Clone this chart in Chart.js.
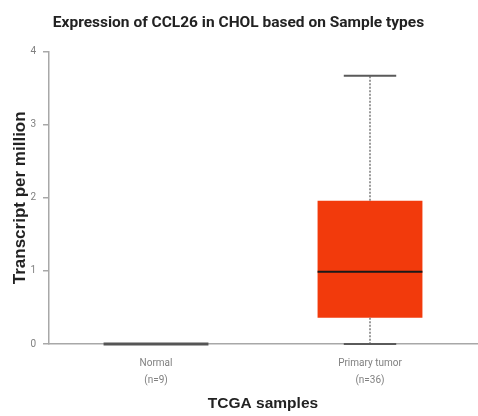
<!DOCTYPE html>
<html>
<head>
<meta charset="utf-8">
<script src="https://cdn.jsdelivr.net/npm/chart.js@4/dist/chart.umd.min.js"></script>
<style>
  html, body { margin: 0; padding: 0; background: #fff; }
  canvas { display: block; }
</style>
</head>
<body>
<canvas id="myChart" width="478" height="416"></canvas>
<script>
// sample groups and their box summary (TPM)
var groups = [["Normal", "(n=9)"], ["Primary tumor", "(n=36)"]];
var mins = [0, 0];
var q1s = [0, 0.36];
var medians = [0, 0.99];
var q3s = [0, 1.96];
var maxs = [0, 3.67];
var boxColors = ["#4d4d4d", "#f23a0c"];
var yTicks = [0, 1, 2, 3, 4];

var boxes = [];
for (var i = 0; i < groups.length; i++) {
    boxes.push([q1s[i], q3s[i]]);
}

// whiskers, caps and median lines on top of the floating bars
var boxPlotPlugin = {
    id: 'boxPlot',
    afterDatasetsDraw: function (chart) {
        var ctx = chart.ctx;
        var x = chart.scales.x;
        var y = chart.scales.y;
        var bars = chart.getDatasetMeta(0).data;
        ctx.save();
        for (var i = 0; i < groups.length; i++) {
            var cx = x.getPixelForValue(i);
            var half = bars[i].width / 2;
            var cap = half / 2;
            // dashed whiskers
            ctx.strokeStyle = "#7a7a7a";
            ctx.lineWidth = 1.5;
            ctx.setLineDash([2, 1.5]);
            ctx.beginPath();
            ctx.moveTo(cx, y.getPixelForValue(q3s[i]));
            ctx.lineTo(cx, y.getPixelForValue(maxs[i]));
            ctx.moveTo(cx, y.getPixelForValue(q1s[i]));
            ctx.lineTo(cx, y.getPixelForValue(mins[i]));
            ctx.stroke();
            ctx.setLineDash([]);
            // caps
            ctx.strokeStyle = "#5a5a5a";
            ctx.lineWidth = 2;
            ctx.beginPath();
            ctx.moveTo(cx - cap, y.getPixelForValue(maxs[i]));
            ctx.lineTo(cx + cap, y.getPixelForValue(maxs[i]));
            ctx.moveTo(cx - cap, y.getPixelForValue(mins[i]));
            ctx.lineTo(cx + cap, y.getPixelForValue(mins[i]));
            ctx.stroke();
            // median
            ctx.strokeStyle = q3s[i] > q1s[i] ? "#1a1a1a" : "#555555";
            ctx.lineWidth = q3s[i] > q1s[i] ? 2 : 3;
            ctx.beginPath();
            ctx.moveTo(cx - half, y.getPixelForValue(medians[i]));
            ctx.lineTo(cx + half, y.getPixelForValue(medians[i]));
            ctx.stroke();
        }
        ctx.restore();
    }
};

var ctx = document.getElementById("myChart");
var myChart = new Chart(ctx, {
    type: 'bar',
    data: {
        labels: groups,
        datasets: [{
            data: boxes,
            backgroundColor: boxColors,
            borderWidth: 0,
            categoryPercentage: 1,
            barPercentage: 0.49
        }]
    },
    options: {
        responsive: false,
        animation: false,
        layout: { padding: { left: 0, right: 1, top: 0, bottom: 0 } },
        plugins: {
            legend: { display: false },
            tooltip: { enabled: false },
            title: {
                display: true,
                text: 'Expression of CCL26 in CHOL based on Sample types',
                color: '#222',
                font: { family: 'Roboto', size: 15.5, weight: 'bold' },
                padding: { top: 14, bottom: 19 }
            }
        },
        scales: {
            x: {
                offset: true,
                grid: { display: false, drawTicks: false },
                border: { display: true, color: '#a8a8a8', width: 1.5 },
                ticks: {
                    color: '#808080',
                    font: { family: 'Roboto', size: 10, lineHeight: 1.7 },
                    padding: 11,
                    maxRotation: 0
                },
                title: {
                    display: true,
                    text: 'TCGA samples',
                    color: '#222',
                    font: { family: 'Liberation Sans', size: 15.5, weight: 'bold' },
                    padding: { top: 4, bottom: 3 }
                },
                afterFit: function (scale) { scale.height = 72; }
            },
            y: {
                min: 0,
                max: 4,
                afterBuildTicks: function (scale) {
                    scale.ticks = yTicks.map(function (v) { return { value: v }; });
                },
                grid: { display: true, drawOnChartArea: false, drawTicks: true, tickLength: 6, color: '#a8a8a8', lineWidth: 1.5 },
                border: { display: true, color: '#a8a8a8', width: 1.5 },
                ticks: {
                    color: '#808080',
                    font: { family: 'Roboto', size: 10 },
                    padding: 7
                },
                title: {
                    display: true,
                    text: 'Transcript per million',
                    color: '#222',
                    font: { family: 'Liberation Sans', size: 17, weight: 'bold' },
                    padding: { top: 10, bottom: 0 }
                },
                afterFit: function (scale) { scale.width = 49; }
            }
        }
    },
    plugins: [boxPlotPlugin]
});
</script>
</body>
</html>
